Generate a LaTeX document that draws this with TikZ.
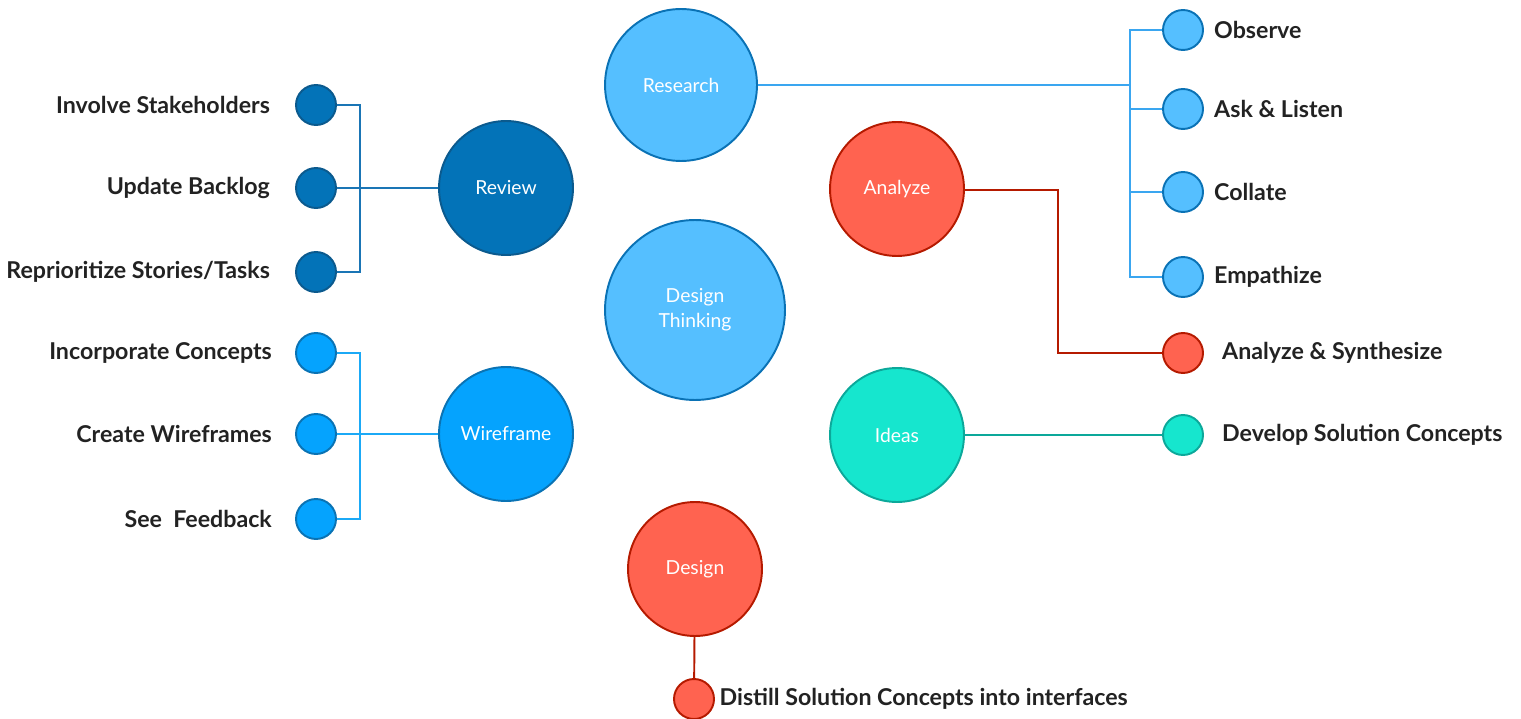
\documentclass[tikz,border=0pt]{standalone}
\usepackage{fontspec}
\setmainfont{Lato}

\definecolor{skyfill}{HTML}{55BFFF}
\definecolor{skyline}{HTML}{0A72B5}
\definecolor{skywire}{HTML}{3AA6F0}
\definecolor{navyfill}{HTML}{0373B8}
\definecolor{navyline}{HTML}{0B5A8E}
\definecolor{navywire}{HTML}{1A75B5}
\definecolor{bluefill}{HTML}{05A3FE}
\definecolor{blueline}{HTML}{0A73B4}
\definecolor{bluewire}{HTML}{1BA9F6}
\definecolor{redfill}{HTML}{FF6350}
\definecolor{redline}{HTML}{B51A00}
\definecolor{tealfill}{HTML}{16E6CE}
\definecolor{tealline}{HTML}{0CA89A}
\definecolor{labeltext}{HTML}{222222}

\tikzset{%
  every topic/.style={
    circle,
    draw,
    line width=1.1pt,
    minimum size=2.68cm,
    text=white,
    align=center,
    font=\fontsize{11}{14}\selectfont
  },
  every leaf/.style={
    circle,
    draw,
    line width=1.1pt,
    minimum size=0.8cm
  },
  sky/.style={fill=skyfill, draw=skyline},
  navy/.style={fill=navyfill, draw=navyline},
  blue/.style={fill=bluefill, draw=blueline},
  red/.style={fill=redfill, draw=redline},
  teal/.style={fill=tealfill, draw=tealline},
  wire/.style={line width=1.1pt},
  leaf label/.style={
    text=labeltext,
    font=\bfseries\fontsize{13.2}{16}\selectfont
  },
}

\begin{document}
\begin{tikzpicture}[x=0.02cm, y=-0.02cm]

\useasboundingbox (0,0) rectangle (1521,719);

% main topics
\node [every topic/.try, sky, minimum size=3.6cm] (thinking) at (695,310) {Design\\Thinking};
\node [every topic/.try, sky, minimum size=3.04cm] (research) at (681,85) {Research};
\node [every topic/.try, navy] (review) at (506,188) {Review};
\node [every topic/.try, blue] (wireframe) at (506,434) {Wireframe};
\node [every topic/.try, red] (analyze) at (897,189) {Analyze};
\node [every topic/.try, teal] (ideas) at (897,435) {Ideas};
\node [every topic/.try, red] (design) at (695,569) {Design};

% review leaves
\foreach \y [count=\i] in {105,188,272}
  \node [every leaf/.try, navy] (rev-\i) at (316,\y) {};
\foreach \l [count=\i] in {Involve Stakeholders, Update Backlog, Reprioritize Stories/Tasks}
  \node [leaf label, anchor=east] (revtxt-\i) at ([xshift=-0.38cm]rev-\i.west) {\l};

% wireframe leaves
\foreach \y [count=\i] in {353,434,519}
  \node [every leaf/.try, blue] (wf-\i) at (316,\y) {};
\foreach \l [count=\i] in {Incorporate Concepts, Create Wireframes, See~ Feedback}
  \node [leaf label, anchor=east] (wftxt-\i) at ([xshift=-0.34cm]wf-\i.west) {\l};

% research leaves
\foreach \y [count=\i] in {30,109,192,277}
  \node [every leaf/.try, sky] (res-\i) at (1183,\y) {};
\foreach \l [count=\i] in {Observe, Ask \& Listen, Collate, Empathize}
  \node [leaf label, anchor=west] (restxt-\i) at ([xshift=0.08cm]res-\i.east) {\l};

% single leaves
\node [every leaf/.try, red] (an-1) at (1183,353) {};
\node [leaf label, anchor=west] (antxt-1) at ([xshift=0.24cm]an-1.east) {Analyze \& Synthesize};
\node [every leaf/.try, teal] (idea-1) at (1183,435) {};
\node [leaf label, anchor=west] (ideatxt-1) at ([xshift=0.24cm]idea-1.east) {Develop Solution Concepts};
\node [every leaf/.try, red] (des-1) at (694,699) {};
\node [leaf label, anchor=west] (destxt-1) at ([xshift=-0.03cm]des-1.east) {Distill Solution Concepts into interfaces};

% connectors
\coordinate (revbus) at (360,188);
\coordinate (wfbus) at (360,434);
\coordinate (resbus) at (1130,85);
\coordinate (anbend) at (1058,190);

\foreach \i in {1,2,3}
  \draw [wire, navywire] (rev-\i) -| (revbus);
\draw [wire, navywire] (revbus) -- (review);

\foreach \i in {1,2,3}
  \draw [wire, bluewire] (wf-\i) -| (wfbus);
\draw [wire, bluewire] (wfbus) -- (wireframe);

\draw [wire, skywire] (research) -- (resbus);
\foreach \i in {1,...,4}
  \draw [wire, skywire] (res-\i) -| (resbus);

\draw [wire, redline] (analyze.east |- anbend) -- (anbend) |- (an-1);
\draw [wire, tealline] (ideas) -- (idea-1);
\draw [wire, redline] (design) -- (des-1);

\end{tikzpicture}
\end{document}
